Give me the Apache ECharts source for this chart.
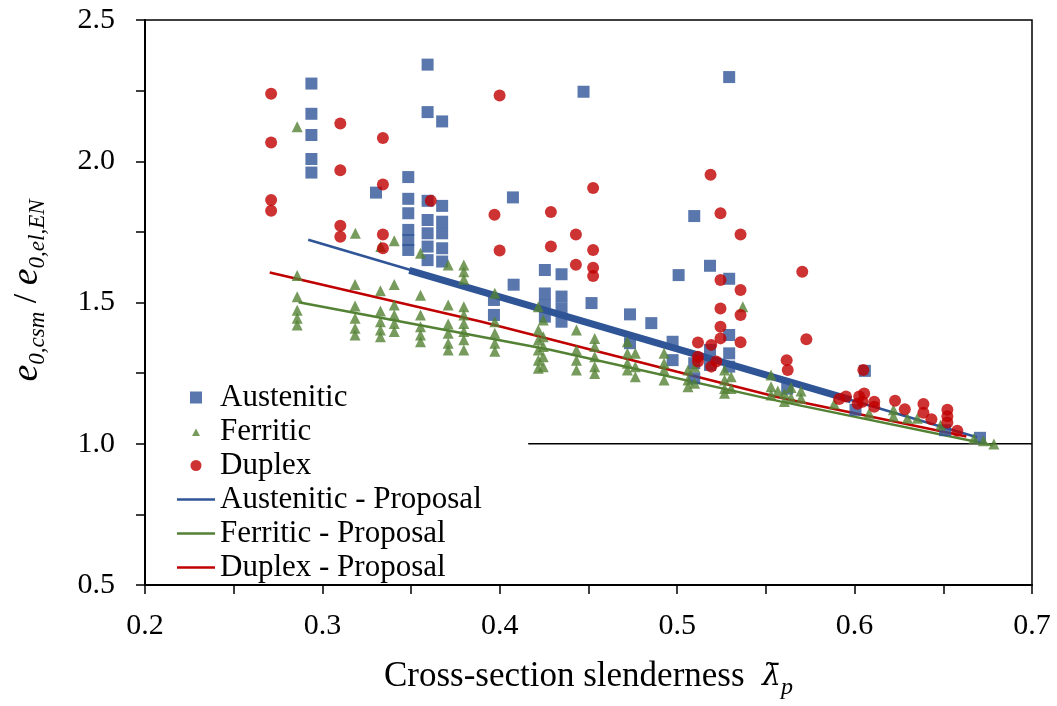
<!DOCTYPE html>
<html>
<head>
<meta charset="utf-8">
<script src="https://cdn.jsdelivr.net/npm/echarts@6/dist/echarts.min.js"></script>
<style>
html,body{margin:0;padding:0;background:#fff;}
#chart{width:1057px;height:706px;}
</style>
</head>
<body>
<div id="chart"></div>
<script>
// ---- data ----
const xTicks = [0.2, 0.3, 0.4, 0.5, 0.6, 0.7];
const yTicks = [0.5, 1.0, 1.5, 2.0, 2.5];

const austenitic = [
  [0.2938, 2.275], [0.2938, 2.168], [0.2938, 2.093], [0.2938, 2.008], [0.2938, 1.960],
  [0.3302, 1.889],
  [0.3484, 1.944], [0.3484, 1.867], [0.3484, 1.816], [0.3484, 1.757], [0.3484, 1.721], [0.3484, 1.686],
  [0.3593, 2.342], [0.3593, 2.174], [0.3675, 2.141],
  [0.3593, 1.860], [0.3593, 1.792], [0.3593, 1.745], [0.3593, 1.698], [0.3593, 1.650],
  [0.3675, 1.842], [0.3675, 1.786], [0.3675, 1.745], [0.3675, 1.692], [0.3675, 1.645],
  [0.4074, 1.872], [0.4078, 1.563],
  [0.3967, 1.509], [0.3967, 1.456],
  [0.4254, 1.615], [0.4254, 1.532], [0.4254, 1.491], [0.4254, 1.450],
  [0.4348, 1.600], [0.4348, 1.521], [0.4348, 1.479], [0.4348, 1.432],
  [0.4472, 2.246], [0.4517, 1.498],
  [0.4734, 1.458], [0.4734, 1.356], [0.4854, 1.427],
  [0.4974, 1.361], [0.4974, 1.296], [0.5008, 1.597], [0.5096, 1.806],
  [0.5185, 1.630], [0.5185, 1.332], [0.5185, 1.279],
  [0.5096, 1.285], [0.5096, 1.232],
  [0.5293, 2.298], [0.5293, 1.584], [0.5293, 1.385], [0.5293, 1.320], [0.5293, 1.273],
  [0.5620, 1.195],
  [0.6058, 1.258], [0.6005, 1.120], [0.6510, 1.048], [0.6707, 1.021]
];

const ferritic = [
  [0.2858, 2.122],
  [0.3186, 1.745], [0.3405, 1.719], [0.3329, 1.698],
  [0.2858, 1.596], [0.2858, 1.520], [0.2858, 1.473], [0.2858, 1.444], [0.2858, 1.420],
  [0.3184, 1.564], [0.3184, 1.488], [0.3184, 1.444], [0.3184, 1.409], [0.3184, 1.385],
  [0.3327, 1.542], [0.3327, 1.470], [0.3327, 1.432], [0.3327, 1.403], [0.3327, 1.379],
  [0.3405, 1.564], [0.3405, 1.491], [0.3405, 1.456], [0.3405, 1.426], [0.3405, 1.397],
  [0.3553, 1.674], [0.3553, 1.526], [0.3553, 1.456], [0.3553, 1.414], [0.3553, 1.385], [0.3553, 1.361],
  [0.3709, 1.633], [0.3709, 1.491], [0.3709, 1.424], [0.3709, 1.391], [0.3709, 1.356], [0.3709, 1.332],
  [0.3797, 1.633], [0.3797, 1.609], [0.3797, 1.582], [0.3797, 1.485], [0.3797, 1.456], [0.3797, 1.426], [0.3797, 1.397], [0.3797, 1.368], [0.3797, 1.332],
  [0.3972, 1.533], [0.3972, 1.432], [0.3972, 1.391], [0.3972, 1.356], [0.3972, 1.327],
  [0.4217, 1.485], [0.4217, 1.403], [0.4217, 1.367], [0.4217, 1.332], [0.4217, 1.296], [0.4217, 1.267],
  [0.4245, 1.438], [0.4245, 1.379], [0.4245, 1.344], [0.4245, 1.308], [0.4245, 1.273],
  [0.4432, 1.403], [0.4432, 1.332], [0.4432, 1.296], [0.4432, 1.261],
  [0.4535, 1.373], [0.4535, 1.344], [0.4535, 1.308], [0.4535, 1.273], [0.4535, 1.249],
  [0.4719, 1.361], [0.4719, 1.320], [0.4719, 1.285], [0.4719, 1.261],
  [0.4764, 1.320], [0.4764, 1.273], [0.4764, 1.237],
  [0.4926, 1.320], [0.4926, 1.285], [0.4926, 1.261], [0.4926, 1.226],
  [0.5061, 1.261], [0.5061, 1.226], [0.5061, 1.202],
  [0.5098, 1.273], [0.5098, 1.214],
  [0.5267, 1.261], [0.5267, 1.226], [0.5267, 1.196], [0.5267, 1.179],
  [0.5304, 1.237], [0.5304, 1.196],
  [0.5370, 1.485],
  [0.5529, 1.243], [0.5529, 1.202], [0.5529, 1.173],
  [0.5567, 1.187], [0.5604, 1.178], [0.5604, 1.150], [0.5642, 1.199], [0.5642, 1.163],
  [0.5698, 1.187], [0.5698, 1.161], [0.5885, 1.142], [0.6082, 1.108],
  [0.6219, 1.120], [0.6219, 1.097], [0.6298, 1.090], [0.6354, 1.090], [0.6485, 1.066],
  [0.6673, 1.019], [0.6726, 1.011], [0.6785, 0.999]
];

const duplex = [
  [0.2711, 2.239], [0.2711, 2.066], [0.2711, 1.863], [0.2711, 1.825],
  [0.3101, 2.134], [0.3101, 1.968], [0.3101, 1.772], [0.3101, 1.733],
  [0.3341, 2.082], [0.3341, 1.918], [0.3341, 1.741], [0.3341, 1.692],
  [0.3611, 1.860],
  [0.3999, 2.233], [0.3970, 1.811], [0.3999, 1.684],
  [0.4288, 1.820], [0.4288, 1.698],
  [0.4429, 1.741], [0.4429, 1.634],
  [0.4526, 1.905], [0.4526, 1.686], [0.4526, 1.623], [0.4526, 1.594],
  [0.5188, 1.952], [0.5244, 1.816], [0.5357, 1.741],
  [0.5244, 1.580], [0.5357, 1.544], [0.5244, 1.479], [0.5357, 1.456], [0.5244, 1.414], [0.5244, 1.373], [0.5357, 1.359],
  [0.5117, 1.358], [0.5192, 1.350], [0.5117, 1.308], [0.5117, 1.291], [0.5192, 1.273], [0.5220, 1.291],
  [0.5705, 1.609], [0.5728, 1.370], [0.5617, 1.296], [0.5623, 1.261],
  [0.6049, 1.261],
  [0.5913, 1.158], [0.5951, 1.167], [0.6026, 1.167], [0.6054, 1.178], [0.6045, 1.149], [0.6111, 1.149], [0.6111, 1.131], [0.6017, 1.142],
  [0.6228, 1.152], [0.6283, 1.122], [0.6388, 1.141], [0.6388, 1.110], [0.6433, 1.087],
  [0.6523, 1.120], [0.6523, 1.097], [0.6523, 1.075], [0.6579, 1.046]
];

const austeniticProposal = [[0.292, 1.722], [0.669, 1.023]];
const austeniticProposalDense = [[0.349, 1.614], [0.598, 1.155]];
const ferriticProposal = [[0.2866, 1.501], [0.429, 1.332], [0.558, 1.150], [0.678, 0.995]];
const duplexProposal = [[0.2703, 1.606], [0.3898, 1.432], [0.500, 1.255], [0.558, 1.163], [0.663, 1.026]];
const referenceLine = [[0.416, 1.0], [0.7, 1.0]];

// ---- chart ----
const BLUE = '#2F5597', GREEN = '#548235', RED = '#C00000';
const FONT = '"Liberation Serif", "Times New Roman", serif';

// legend icons (38 x 12 box, drawn centred)
const BOX = 'M0,0 M38,12 ';
const ICON_SQUARE = 'path://' + BOX + 'M13,0 L25,0 L25,12 L13,12 Z';
const ICON_TRI = 'path://' + BOX + 'M15,10.5 L19,3 L23,10.5 Z';
const ICON_CIRCLE = 'path://' + BOX + 'M13.5,6 A5.5,5.5 0 1,1 24.5,6 A5.5,5.5 0 1,1 13.5,6 Z';
const ICON_LINE = 'path://' + BOX + 'M0,4.8 L38,4.8 L38,7.2 L0,7.2 Z';

const chart = echarts.init(document.getElementById('chart'));
const near = (v, step) => Math.abs(v / step - Math.round(v / step)) < 1e-6;

chart.setOption({
  animation: false,
  backgroundColor: '#fff',
  textStyle: { fontFamily: FONT, color: '#000' },
  grid: { left: 142, right: 25, top: 20, bottom: 121, show: true, borderColor: '#000', borderWidth: 1.5, backgroundColor: 'transparent' },
  legend: {
    orient: 'vertical', left: 172, top: 377,
    itemWidth: 38, itemHeight: 12, itemGap: 3,
    textStyle: { fontFamily: FONT, fontSize: 31, color: '#000', lineHeight: 31 },
    data: [
      { name: 'Austenitic', icon: ICON_SQUARE },
      { name: 'Ferritic', icon: ICON_TRI },
      { name: 'Duplex', icon: ICON_CIRCLE },
      { name: 'Austenitic - Proposal', icon: ICON_LINE },
      { name: 'Ferritic - Proposal', icon: ICON_LINE },
      { name: 'Duplex - Proposal', icon: ICON_LINE }
    ]
  },
  xAxis: {
    type: 'value', min: xTicks[0], max: xTicks[xTicks.length - 1], interval: 0.05,
    axisLine: { lineStyle: { color: '#000', width: 2 } },
    axisTick: { show: true, inside: false, length: 9, lineStyle: { color: '#000', width: 1.5 } },
    splitLine: { show: false },
    axisLabel: { fontFamily: FONT, fontSize: 30, color: '#000', margin: 26,
      formatter: v => near(v, 0.1) ? v.toFixed(1) : '' },
    name: 'Cross-section slenderness  {lam|λ̄}{sub|p}',
    nameLocation: 'middle', nameGap: 92,
    nameTextStyle: {
      fontFamily: FONT, fontSize: 35, color: '#000', lineHeight: 46, verticalAlign: 'middle',
      rich: {
        lam: { fontFamily: '"DejaVu Serif", serif', fontStyle: 'italic', fontSize: 30, lineHeight: 46, verticalAlign: 'middle' },
        sub: { fontFamily: FONT, fontStyle: 'italic', fontSize: 24, lineHeight: 24, verticalAlign: 'bottom' }
      }
    }
  },
  yAxis: {
    type: 'value', min: yTicks[0], max: yTicks[yTicks.length - 1], interval: 0.25,
    axisLine: { lineStyle: { color: '#000', width: 2 } },
    axisTick: { show: true, inside: false, length: 9, lineStyle: { color: '#000', width: 1.5 } },
    splitLine: { show: false },
    axisLabel: { fontFamily: FONT, fontSize: 30, color: '#000', margin: 30,
      formatter: v => near(v, 0.5) ? v.toFixed(1) : '' },
    name: '{e|e}{sub|0,csm}{sl| / }{e|e}{sub|0,el,EN}',
    nameLocation: 'middle', nameGap: 96, nameRotate: 90,
    nameTextStyle: {
      fontFamily: FONT, fontSize: 36, color: '#000', padding: [0, 0, 0, 24],
      rich: {
        e: { fontFamily: FONT, fontStyle: 'italic', fontSize: 38, lineHeight: 44, verticalAlign: 'middle' },
        sl: { fontFamily: FONT, fontSize: 34, lineHeight: 44, verticalAlign: 'middle' },
        sub: { fontFamily: FONT, fontStyle: 'italic', fontSize: 23, lineHeight: 23, verticalAlign: 'bottom' }
      }
    }
  },
  series: [
    { name: 'reference', type: 'line', data: referenceLine, symbol: 'none', silent: true,
      lineStyle: { color: '#000', width: 1.5 }, z: 1 },
    { name: 'Austenitic - Proposal', type: 'line', data: austeniticProposal, symbol: 'none',
      itemStyle: { color: BLUE }, lineStyle: { color: BLUE, width: 2.5 }, z: 2 },
    { name: 'Ferritic - Proposal', type: 'line', data: ferriticProposal, symbol: 'none',
      itemStyle: { color: GREEN }, lineStyle: { color: GREEN, width: 2.5 }, z: 2 },
    { name: 'Duplex - Proposal', type: 'line', data: duplexProposal, symbol: 'none',
      itemStyle: { color: RED }, lineStyle: { color: RED, width: 2.5 }, z: 2 },
    { name: 'Austenitic - Proposal', type: 'line', data: austeniticProposalDense, symbol: 'none',
      itemStyle: { color: BLUE }, lineStyle: { color: BLUE, width: 7 }, z: 2 },
    { name: 'Austenitic', type: 'scatter', data: austenitic, symbol: 'rect', symbolSize: 12,
      itemStyle: { color: BLUE }, z: 3 },
    { name: 'Ferritic', type: 'scatter', data: ferritic, symbol: 'triangle', symbolSize: 11,
      itemStyle: { color: GREEN }, z: 4 },
    { name: 'Duplex', type: 'scatter', data: duplex, symbol: 'circle', symbolSize: 12,
      itemStyle: { color: RED }, z: 5 }
  ]
});
</script>
</body>
</html>
